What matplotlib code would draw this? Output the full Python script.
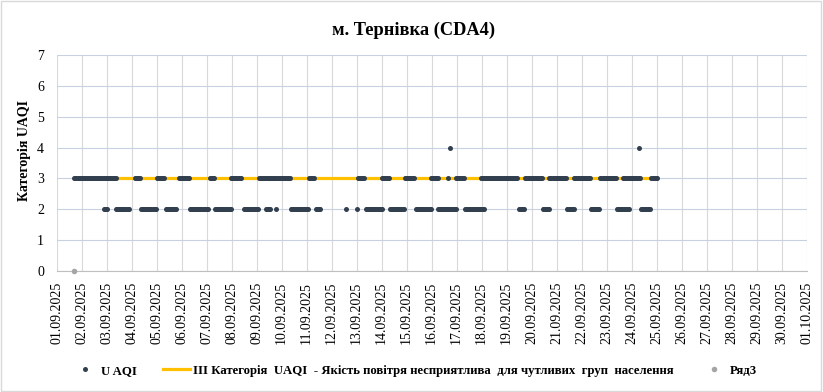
"""UAQI hourly categories for м. Тернівка (CDA4), September 2025."""

import matplotlib

matplotlib.use("Agg")
import matplotlib.pyplot as plt
import numpy as np
from matplotlib.lines import Line2D
from matplotlib.patches import Rectangle

plt.rcParams["font.family"] = ["Liberation Serif", "DejaVu Serif"]

TITLE = "м. Тернівка (CDA4)"
Y_LABEL = "Категорія UAQI"
DAY_LABELS = [f"{d:02d}.09.2025" for d in range(1, 31)] + ["01.10.2025"]

# hourly observations, as runs of hours counted from 01.09.2025 00:00
# (first hour, last hour) -- read off the picture
UAQI3_RUNS = [(17, 57), (75, 80), (96, 103), (117, 127), (147, 151), (167, 177),
              (194, 224), (242, 247), (289, 295), (312, 319), (334, 343),
              (359, 366), (376, 376), (383, 391), (407, 442), (450, 466),
              (473, 489), (497, 512), (522, 537), (544, 560), (571, 576)]
UAQI2_RUNS = [(45, 48), (57, 69), (81, 95), (105, 115), (128, 145), (152, 167),
              (180, 193), (201, 205), (211, 211), (225, 241), (249, 253),
              (278, 278), (288, 288), (297, 312), (320, 333), (345, 359),
              (366, 383), (392, 410), (444, 449), (467, 473), (490, 497),
              (513, 521), (538, 549), (561, 570)]
UAQI4_HOURS = [378, 559]

THRESHOLD_LABEL = ("ІІІ Категорія  UAQI  - Якість повітря несприятлива  "
                   "для чутливих  груп  населення")
THRESHOLD_VALUE = 3
THRESHOLD_SPAN = (17, 576)

SERIES3_HOUR = 17
SERIES3_VALUE = 0

DOT = "#323f4f"
ORANGE = "#ffc000"
GREY_DOT = "#a5a5a5"


def expand(runs):
    hours = [np.arange(a, b + 1) for a, b in runs]
    return np.concatenate(hours) / 24.0


def main():
    fig = plt.figure(figsize=(8.23, 3.92), dpi=100)
    ax = fig.add_axes([0.0689, 0.3087, 0.9113, 0.551])

    xs, ys = [], []
    for level, runs in ((3, UAQI3_RUNS), (2, UAQI2_RUNS)):
        x = expand(runs)
        xs.append(x)
        ys.append(np.full(len(x), level))
    x4 = np.array(UAQI4_HOURS) / 24.0
    xs.append(x4)
    ys.append(np.full(len(x4), 4))
    x_all = np.concatenate(xs)
    y_all = np.concatenate(ys)

    span = np.array(THRESHOLD_SPAN) / 24.0
    ax.plot(span, [THRESHOLD_VALUE] * 2, color=ORANGE, lw=2.3,
            solid_capstyle="butt", zorder=2)
    ax.plot(x_all, y_all, "o", color=DOT, ms=3.6, mew=0, zorder=3)
    ax.plot([SERIES3_HOUR / 24.0], [SERIES3_VALUE], "o", color=GREY_DOT,
            ms=4.0, mew=0, zorder=4, clip_on=False)

    ax.set_xlim(0, len(DAY_LABELS) - 1)
    ax.set_ylim(0, 7)
    ax.set_xticks(np.arange(len(DAY_LABELS)))
    ax.set_xticklabels(DAY_LABELS, rotation=90, fontsize=10)
    ax.set_yticks(range(0, 8))
    ax.tick_params(axis="both", length=0, labelsize=10)
    ax.tick_params(axis="x", pad=8)
    ax.tick_params(axis="y", pad=9)

    ax.grid(axis="x", color="#d9d9d9", lw=0.8)
    ax.grid(axis="y", color="#c8d0e2", lw=0.8)
    ax.set_axisbelow(True)
    for side in ("top", "right", "left"):
        ax.spines[side].set_visible(False)
    ax.spines["bottom"].set_color("#bfbfbf")
    ax.spines["bottom"].set_linewidth(0.8)

    ax.set_ylabel(Y_LABEL, fontsize=10, fontweight="bold")
    ax.yaxis.set_label_coords(-0.034, 0.56)

    fig.text(0.502, 0.923, TITLE, ha="center", va="center", fontsize=13.2,
             fontweight="bold")

    handles = [
        Line2D([], [], ls="none", marker="o", color=DOT, ms=3.6, mew=0),
        Line2D([], [], color=ORANGE, lw=2.3),
        Line2D([], [], ls="none", marker="o", color=GREY_DOT, ms=4.0, mew=0),
    ]
    labels = ["U AQI", THRESHOLD_LABEL, "Ряд3"]
    fig.legend(handles, labels, loc="center", bbox_to_anchor=(0.503, 0.054),
               ncol=3, frameon=False, handlelength=2.1, handletextpad=0.2,
               columnspacing=2.1, prop={"weight": "bold", "size": 9.2})

    fig.add_artist(Rectangle((0.001, 0.002), 0.997, 0.995,
                             transform=fig.transFigure, fill=False,
                             edgecolor="#d9d9d9", lw=1.0))

    fig.savefig("out.png", dpi=100)


if __name__ == "__main__":
    main()
